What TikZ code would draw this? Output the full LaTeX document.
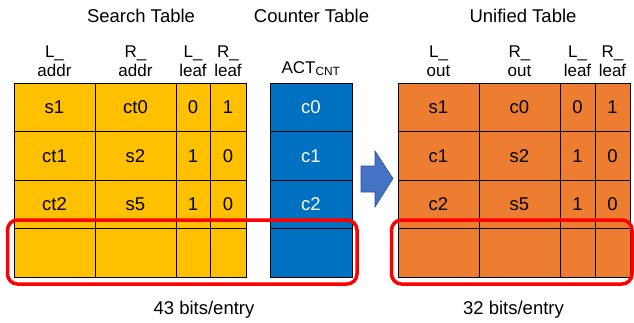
\documentclass[tikz,border=0pt]{standalone}
\usepackage{fontspec}
\setmainfont{Liberation Sans}
\definecolor{ylw}{HTML}{FFC000}
\definecolor{blu}{HTML}{0070C0}
\definecolor{org}{HTML}{ED7D31}
\definecolor{arrfill}{HTML}{4472C4}
\definecolor{arrline}{HTML}{2F528F}
\definecolor{redbox}{HTML}{FF0000}
\begin{document}
\begin{tikzpicture}[x=1pt,y=-1pt,
  cell/.style={draw=black, line width=1pt, inner sep=0pt, minimum height=48.5pt, font=\fontsize{18.5}{18.5}\selectfont},
  ys/.style={cell, fill=ylw},
  bs/.style={cell, fill=blu, text=white},
  os/.style={cell, fill=org},
  wA/.style={minimum width=81pt},
  wB/.style={minimum width=34pt},
  wC/.style={minimum width=36pt},
  wD/.style={minimum width=35pt},
  wE/.style={minimum width=82pt},
  title/.style={font=\fontsize{18.5}{18.5}\selectfont, anchor=base, inner sep=0pt},
  hdr/.style={font=\fontsize{17}{19}\selectfont, align=center, anchor=south, inner sep=0pt},
  hl/.style={draw=redbox, line width=3.5pt, rounded corners=10pt}
]
\useasboundingbox (0,0) rectangle (634,322);

% titles
\node[title] (t1) at (141,22) {Search Table};
\node[title] (t2) at (311.5,22) {Counter Table};
\node[title] (t3) at (523,22) {Unified Table};

% headers
\node[hdr] (h1) at (54.5,77) {L\_\\addr};
\node[hdr] (h2) at (135.5,77) {R\_\\addr};
\node[hdr] (h3) at (193,77) {L\_\\leaf};
\node[hdr] (h4) at (228,77) {R\_\\leaf};
\node[title, font=\fontsize{17}{17}\selectfont] (h5) at (311,73) {ACT\textsubscript{CNT}};
\node[hdr] (h6) at (438.5,77) {L\_\\out};
\node[hdr] (h7) at (519.5,77) {R\_\\out};
\node[hdr] (h8) at (577.5,77) {L\_\\leaf};
\node[hdr] (h9) at (612.5,77) {R\_\\leaf};

% search table
\node[ys,wA] (sa1) at (54.5,107.25) {s1};
\node[ys,wA] (sb1) at (135.5,107.25) {ct0};
\node[ys,wB] (sc1) at (193,107.25) {0};
\node[ys,wC] (sd1) at (228,107.25) {1};
\node[ys,wA] (sa2) at (54.5,155.75) {ct1};
\node[ys,wA] (sb2) at (135.5,155.75) {s2};
\node[ys,wB] (sc2) at (193,155.75) {1};
\node[ys,wC] (sd2) at (228,155.75) {0};
\node[ys,wA] (sa3) at (54.5,204.25) {ct2};
\node[ys,wA] (sb3) at (135.5,204.25) {s5};
\node[ys,wB] (sc3) at (193,204.25) {1};
\node[ys,wC] (sd3) at (228,204.25) {0};
\node[ys,wA] (sa4) at (54.5,252.75) {};
\node[ys,wA] (sb4) at (135.5,252.75) {};
\node[ys,wB] (sc4) at (193,252.75) {};
\node[ys,wC] (sd4) at (228,252.75) {};

% counter table
\node[bs,wE] (c1) at (311,107.25) {c0};
\node[bs,wE] (c2) at (311,155.75) {c1};
\node[bs,wE] (c3) at (311,204.25) {c2};
\node[bs,wE] (c4) at (311,252.75) {};

% unified table
\node[os,wA] (ua1) at (438.5,107.25) {s1};
\node[os,wA] (ub1) at (519.5,107.25) {c0};
\node[os,wD] (uc1) at (577.5,107.25) {0};
\node[os,wD] (ud1) at (612.5,107.25) {1};
\node[os,wA] (ua2) at (438.5,155.75) {c1};
\node[os,wA] (ub2) at (519.5,155.75) {s2};
\node[os,wD] (uc2) at (577.5,155.75) {1};
\node[os,wD] (ud2) at (612.5,155.75) {0};
\node[os,wA] (ua3) at (438.5,204.25) {c2};
\node[os,wA] (ub3) at (519.5,204.25) {s5};
\node[os,wD] (uc3) at (577.5,204.25) {1};
\node[os,wD] (ud3) at (612.5,204.25) {0};
\node[os,wA] (ua4) at (438.5,252.75) {};
\node[os,wA] (ub4) at (519.5,252.75) {};
\node[os,wD] (uc4) at (577.5,252.75) {};
\node[os,wD] (ud4) at (612.5,252.75) {};

% arrow
\draw[fill=arrfill, draw=arrline, line width=0.6pt, line join=miter]
  (361,166) -- (375,166) -- (375,151) -- (393,178.5) -- (375,207) -- (375,192) -- (361,192) -- cycle;

% red highlight boxes
\draw[hl] (7.5,220) rectangle (357,284);
\draw[hl] (391.5,220) rectangle (632,284);

% bottom labels
\node[title] (b1) at (204,314) {43 bits/entry};
\node[title] (b2) at (513.5,314) {32 bits/entry};
\end{tikzpicture}
\end{document}
